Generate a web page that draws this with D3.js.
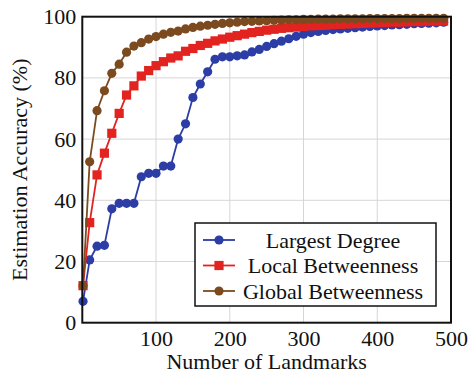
<!DOCTYPE html>
<html>
<head>
<meta charset="utf-8">
<script src="https://cdn.jsdelivr.net/npm/d3@7"></script>
<style>
  body { margin: 0; background: #fff; }
</style>
</head>
<body>
<div id="chart"></div>
<script>
const landmarks = [1, 10, 20, 30, 40, 50, 60, 70, 80, 90, 100, 110, 120, 130, 140, 150, 160, 170, 180, 190,
  200, 210, 220, 230, 240, 250, 260, 270, 280, 290, 300, 310, 320, 330, 340, 350, 360, 370, 380, 390,
  400, 410, 420, 430, 440, 450, 460, 470, 480, 490];

const largestDegree = [7, 20.5, 25, 25.3, 37.2, 39, 39, 39, 47.7, 48.8, 48.8, 51.2, 51.2, 60, 65, 73.6, 78, 82, 86.1, 86.9,
  86.9, 87.2, 87.5, 88.5, 89.3, 90.3, 91.2, 92, 92.8, 93.6, 94.3, 94.8, 95.2, 95.5, 95.8, 96, 96.2, 96.4, 96.6, 96.8,
  97, 97.1, 97.3, 97.4, 97.5, 97.7, 97.8, 97.9, 98, 98.2];

const localBetweenness = [12.1, 32.7, 48.3, 55.4, 61.9, 68.4, 74.4, 77.4, 80.6, 82.4, 84, 85.3, 86.5, 87.2, 88.7, 89.6, 90.6, 91.3, 92.1, 92.7,
  93.3, 93.8, 94.3, 94.8, 95.2, 95.6, 95.9, 96.2, 96.4, 96.6, 96.8, 97, 97.1, 97.2, 97.4, 97.5, 97.6, 97.7, 97.8, 97.9,
  98, 98.1, 98.2, 98.2, 98.3, 98.4, 98.4, 98.5, 98.5, 98.6];

const globalBetweenness = [12.1, 52.6, 69.3, 75.8, 81.5, 84.5, 88.4, 90.4, 91.5, 92.7, 93.5, 94.3, 94.9, 95.3, 96, 96.5, 96.9, 97.2, 97.5, 97.8,
  98, 98.2, 98.4, 98.5, 98.6, 98.7, 98.8, 98.9, 99, 99, 99.1, 99.1, 99.2, 99.2, 99.2, 99.3, 99.3, 99.3, 99.3, 99.4,
  99.4, 99.4, 99.4, 99.4, 99.5, 99.5, 99.5, 99.5, 99.5, 99.5];

const seriesNames = ['Largest Degree', 'Local Betweenness', 'Global Betweenness'];
const xTicks = [100, 200, 300, 400, 500];
const yTicks = [0, 20, 40, 60, 80, 100];

const width = 469;
const height = 374;
const margin = {top: 16.7, right: 18, bottom: 51.3, left: 82.3};
const serif = '"Liberation Serif"';

const series = [
  {name: seriesNames[0], values: largestDegree, color: '#2c3da6', shape: 'circle'},
  {name: seriesNames[1], values: localBetweenness, color: '#e2231f', shape: 'square'},
  {name: seriesNames[2], values: globalBetweenness, color: '#7b4a1f', shape: 'circle'}
];

const svg = d3.select('#chart').append('svg')
  .attr('width', width)
  .attr('height', height);

const x = d3.scaleLinear().domain([0, 500]).range([margin.left, width - margin.right]);
const y = d3.scaleLinear().domain([0, 100]).range([height - margin.bottom, margin.top]);

// grid
svg.append('g')
  .selectAll('line')
  .data(xTicks.slice(0, -1))
  .join('line')
  .attr('x1', d => x(d)).attr('x2', d => x(d))
  .attr('y1', y(0)).attr('y2', y(100))
  .attr('stroke', '#d6d6d6').attr('stroke-width', 1);
svg.append('g')
  .selectAll('line')
  .data(yTicks.slice(1, -1))
  .join('line')
  .attr('x1', x(0)).attr('x2', x(500))
  .attr('y1', d => y(d)).attr('y2', d => y(d))
  .attr('stroke', '#d6d6d6').attr('stroke-width', 1);

// axes
const xAxis = svg.append('g')
  .attr('transform', `translate(0,${y(0)})`)
  .call(d3.axisBottom(x).tickValues(xTicks).tickSize(0).tickPadding(8));
xAxis.select('.domain').remove();
xAxis.selectAll('text')
  .style('font-family', serif).style('font-size', '22px')
  .attr('fill', '#111').attr('dy', '0.71em');

const yAxis = svg.append('g')
  .attr('transform', `translate(${x(0)},0)`)
  .call(d3.axisLeft(y).tickValues(yTicks).tickSize(0).tickPadding(6));
yAxis.select('.domain').remove();
yAxis.selectAll('text')
  .style('font-family', serif).style('font-size', '22px')
  .attr('fill', '#111');

// lines and markers
const line = d3.line()
  .x((d, i) => x(landmarks[i]))
  .y(d => y(d));

series.forEach(s => {
  const g = svg.append('g');
  g.append('path')
    .datum(s.values)
    .attr('fill', 'none')
    .attr('stroke', s.color)
    .attr('stroke-width', 1.8)
    .attr('d', line);
  if (s.shape === 'circle') {
    g.selectAll('circle')
      .data(s.values)
      .join('circle')
      .attr('cx', (d, i) => x(landmarks[i]))
      .attr('cy', d => y(d))
      .attr('r', 4.6)
      .attr('fill', s.color);
  } else {
    g.selectAll('rect')
      .data(s.values)
      .join('rect')
      .attr('x', (d, i) => x(landmarks[i]) - 4.6)
      .attr('y', d => y(d) - 4.6)
      .attr('width', 9.2)
      .attr('height', 9.2)
      .attr('fill', s.color);
  }
});

// frame
svg.append('rect')
  .attr('x', x(0)).attr('y', y(100))
  .attr('width', x(500) - x(0))
  .attr('height', y(0) - y(100))
  .attr('fill', 'none')
  .attr('stroke', '#111')
  .attr('stroke-width', 2);

// axis titles
svg.append('text')
  .attr('x', (x(0) + x(500)) / 2)
  .attr('y', 369)
  .attr('text-anchor', 'middle')
  .style('font-family', serif).style('font-size', '22px')
  .attr('fill', '#111')
  .text('Number of Landmarks');

svg.append('text')
  .attr('transform', `translate(27,${(y(0) + y(100)) / 2}) rotate(-90)`)
  .attr('text-anchor', 'middle')
  .style('font-family', serif).style('font-size', '22px')
  .attr('fill', '#111')
  .text('Estimation Accuracy (%)');

// legend
const legend = svg.append('g').attr('transform', 'translate(195,223)');
legend.append('rect')
  .attr('width', 241).attr('height', 83)
  .attr('fill', '#fff')
  .attr('stroke', '#111')
  .attr('stroke-width', 1.5);

series.forEach((s, i) => {
  const row = legend.append('g').attr('transform', `translate(0,${17 + i * 25.5})`);
  row.append('line')
    .attr('x1', 8).attr('x2', 40)
    .attr('stroke', s.color).attr('stroke-width', 1.8);
  if (s.shape === 'circle') {
    row.append('circle').attr('cx', 24).attr('r', 4.6).attr('fill', s.color);
  } else {
    row.append('rect').attr('x', 19.4).attr('y', -4.6).attr('width', 9.2).attr('height', 9.2).attr('fill', s.color);
  }
  row.append('text')
    .attr('x', 138)
    .attr('dy', '0.35em')
    .attr('text-anchor', 'middle')
    .style('font-family', serif).style('font-size', '22px')
    .attr('fill', '#111')
    .text(s.name);
});
</script>
</body>
</html>
